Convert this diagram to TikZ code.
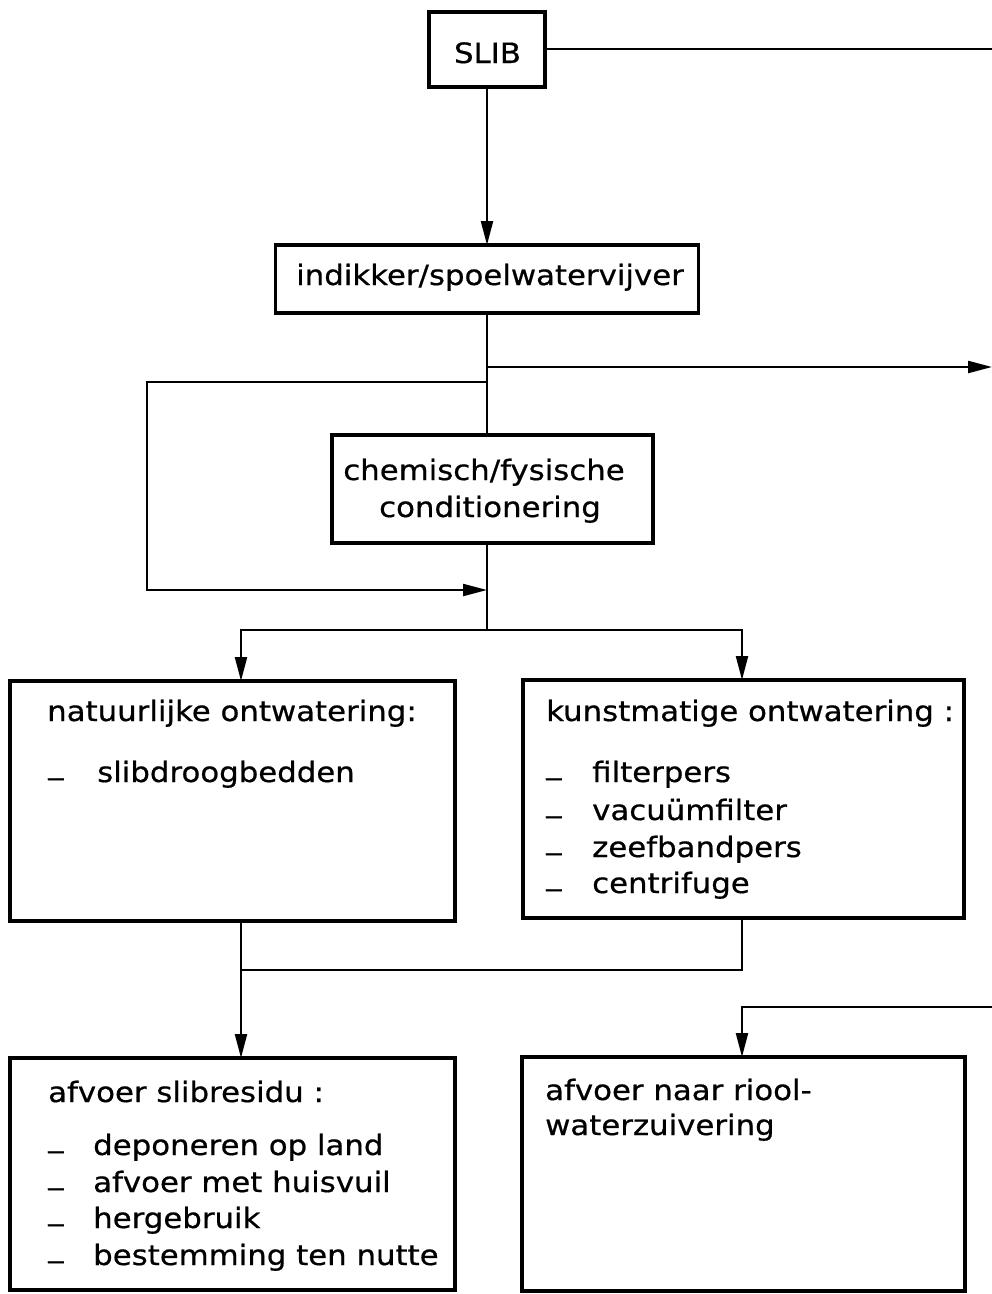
\documentclass[tikz,border=0pt]{standalone}
\usepackage{fontspec}
\setmainfont{DejaVu Sans}[FakeStretch=1.1,FakeBold=0.6]
\usetikzlibrary{arrows.meta}
\newcommand{\itemdash}{\raisebox{0.3em}{\_}}
\begin{document}
\begin{tikzpicture}[x=1pt,y=-1pt,
  box/.style={draw,line width=3.4pt,inner sep=0pt,outer sep=0pt},
  conn/.style={line width=2.2pt},
  arr/.style={conn,-{Triangle[length=24pt,width=12pt]}},
  txt/.style={inner sep=0pt,anchor=base west,font=\fontsize{28}{34}\selectfont},
  ctxt/.style={txt,anchor=base}]
\useasboundingbox (0,0) rectangle (992,1294);
\fill[white] (0,0) rectangle (992,1294);

% boxes
\node[box,minimum width=116pt,minimum height=75pt] (slib) at (487,49.5) {};
\node[box,minimum width=423pt,minimum height=68pt] (ind) at (487,279) {};
\node[box,minimum width=321pt,minimum height=108pt] (chem) at (492.5,489) {};
\node[box,minimum width=445pt,minimum height=240pt] (nat) at (232.5,801) {};
\node[box,minimum width=441pt,minimum height=238pt] (kun) at (743.5,799) {};
\node[box,minimum width=445pt,minimum height=232pt] (res) at (232.5,1174) {};
\node[box,minimum width=443pt,minimum height=234pt] (rio) at (743.5,1174) {};

% texts
\node[ctxt] (slibT) at (487.5,63) {SLIB};
\node[ctxt] (indT) at (490,285) {indikker/spoelwatervijver};
\node[ctxt] (chemT1) at (484,480) {chemisch/fysische};
\node[ctxt] (chemT2) at (490,517) {conditionering};

\node[txt] (natT) at (47,721) {natuurlijke ontwatering:};
\node[txt] (natD1) at (48,782) {\itemdash};
\node[txt] (natI1) at (97,782) {slibdroogbedden};

\node[txt] (kunT) at (546,721) {kunstmatige ontwatering :};
\node[txt] (kunD1) at (546,782) {\itemdash};
\node[txt] (kunI1) at (592,782) {filterpers};
\node[txt] (kunD2) at (546,820) {\itemdash};
\node[txt] (kunI2) at (592,820) {vacuümfilter};
\node[txt] (kunD3) at (546,857) {\itemdash};
\node[txt] (kunI3) at (592,857) {zeefbandpers};
\node[txt] (kunD4) at (546,893) {\itemdash};
\node[txt] (kunI4) at (592,893) {centrifuge};

\node[txt] (resT) at (48,1102) {afvoer slibresidu :};
\node[txt] (resD1) at (48,1155) {\itemdash};
\node[txt] (resI1) at (93,1155) {deponeren op land};
\node[txt] (resD2) at (48,1192) {\itemdash};
\node[txt] (resI2) at (93,1192) {afvoer met huisvuil};
\node[txt] (resD3) at (48,1228) {\itemdash};
\node[txt] (resI3) at (93,1228) {hergebruik};
\node[txt] (resD4) at (48,1265) {\itemdash};
\node[txt] (resI4) at (93,1265) {bestemming ten nutte};

\node[txt] (rioT1) at (545,1100) {afvoer naar riool-};
\node[txt] (rioT2) at (545,1135) {waterzuivering};

% coordinates
\coordinate (eR1) at (992,49);
\coordinate (tapR) at (487,367);
\coordinate (eR2) at (992,367);
\coordinate (lp1) at (487,382);
\coordinate (lpL) at (147,382);
\coordinate (lp2) at (487,590);
\coordinate (split) at (487,630);
\coordinate (natIn) at (241,681);
\coordinate (kunIn) at (742,680);
\coordinate (natOut) at (241,921);
\coordinate (kunOut) at (742,918);
\coordinate (merge) at (241,970);
\coordinate (resIn) at (241,1058);
\coordinate (eR3) at (992,1007);
\coordinate (rioIn) at (742,1057);

% connectors
\draw[conn] (slib.east |- eR1) -- (eR1);
\draw[arr] (slib.south) -- (ind.north);
\draw[conn] (ind.south) -- (ind.south |- chem.north);
\draw[arr] (tapR) -- (eR2);
\draw[arr] (lp1) -- (lpL) |- (lp2);
\draw[conn] (chem.south -| ind.south) -- (split);
\draw[arr] (split) -| (natIn);
\draw[arr] (split) -| (kunIn);
\draw[conn] (natOut) -- (merge) -| (kunOut);
\draw[arr] (merge) -- (resIn);
\draw[arr] (eR3) -| (rioIn);
\end{tikzpicture}
\end{document}
